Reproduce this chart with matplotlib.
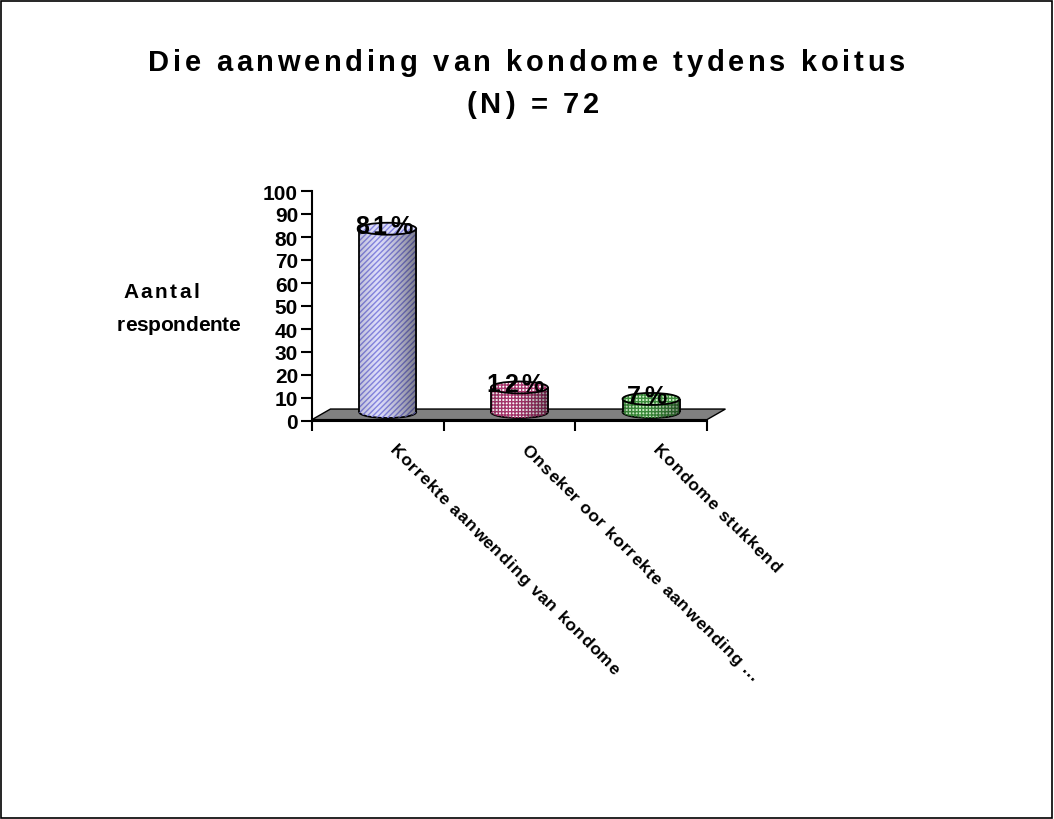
import numpy as np
import matplotlib
matplotlib.use("Agg")
import matplotlib.pyplot as plt
from matplotlib.patches import Polygon, Rectangle, Ellipse
from matplotlib.font_manager import FontProperties, findfont, get_font

plt.rcParams['font.family'] = ['Liberation Sans', 'DejaVu Sans']

# ---- data ----
categories = ["Korrekte aanwending van kondome",
              "Onseker oor korrekte aanwending ...",
              "Kondome stukkend"]
values = [81, 12, 7]
labels = ["81%", "12%", "7%"]
yticks = list(range(0, 101, 10))

faces = ['#dcdcf8', '#ffffff', '#d0f0c8']
hatch_cols = ['#8484e0', '#a8386e', '#3c8c3c']
hatches = ['//////', '+++++', '+++++']

W, H = 1054, 820
fig = plt.figure(figsize=(W / 100, H / 100), dpi=100)
fig.patches.append(Rectangle((1 / W, 1 / H), 1 - 3 / W, 1 - 3 / H, transform=fig.transFigure,
                             fill=False, ec='black', lw=1.2))

BOLD = FontProperties(family='Liberation Sans', weight='bold')
FT = get_font(findfont(BOLD))


def tracked(x, y, s, size, track=0.0, width=None, angle=0.0, ha='left'):
    """letter-spaced text, x/y in pixels from top-left, y = baseline"""
    FT.set_size(size, 100)
    adv = []
    for c in s:
        g = FT.load_char(ord(c))
        adv.append(g.linearHoriAdvance / 65536)
    nat = sum(adv)
    if width is not None and len(s) > 1:
        track = (width - nat) / (len(s) - 1)
    total = nat + track * (len(s) - 1)
    a = np.radians(angle)
    d = np.array([np.cos(a), np.sin(a)])
    pos = -total / 2 if ha == 'center' else 0.0
    for c, w in zip(s, adv):
        px, py = np.array([x, y]) + pos * d
        if c != ' ':
            fig.text(px / W, (H - py) / H, c, fontsize=size, fontweight='bold',
                     rotation=-angle, rotation_mode='anchor', ha='left', va='baseline')
        pos += w + track


# axes box in pixel coords
x0, x1, ytop, ybot = 312, 707, 192, 422
ax = fig.add_axes([x0 / W, (H - ybot) / H, (x1 - x0) / W, (ybot - ytop) / H])
n = len(values)
ax.set_xlim(0, n)
ax.set_ylim(0, 100)

# floor (3d-ish)
dx, dy = 0.14, 5.2
floor = Polygon([(0, 0.6), (n, 0.6), (n + dx, dy), (dx, dy)], closed=True,
                fc='#808080', ec='black', lw=1, clip_on=False, zorder=1)
ax.add_patch(floor)

# cylinder shading profile (dark at right side)
u = np.linspace(0, 1, 64)
alpha = np.where(u < 0.3, 0.12 * (0.3 - u) / 0.3, 0.45 * ((u - 0.3) / 0.7) ** 1.5)
shade = np.zeros((1, 64, 4))
shade[0, :, 3] = alpha

bw = 0.433
eh = 5.2
base = 3.9
for i, (v, fc, hc, ht) in enumerate(zip(values, faces, hatch_cols, hatches)):
    cx = i + 0.575
    top = v + 2.6
    # bottom ellipse
    bot = Ellipse((cx, base), bw, eh, fc=fc, ec='black', lw=1.3, clip_on=False, zorder=2)
    ax.add_patch(bot)
    ax.add_patch(Ellipse((cx, base), bw, eh, fc='none', ec=hc, lw=0, hatch=ht,
                         clip_on=False, zorder=2))
    im = ax.imshow(shade, extent=(cx - bw / 2, cx + bw / 2, base - eh / 2, base + eh / 2),
                   aspect='auto', zorder=2.5, interpolation='bilinear')
    im.set_clip_path(bot)
    # body
    body = Rectangle((cx - bw / 2, base), bw, top - base, fc=fc, ec=hc, hatch=ht, lw=0,
                     clip_on=False, zorder=3)
    ax.add_patch(body)
    im = ax.imshow(shade, extent=(cx - bw / 2, cx + bw / 2, base, top),
                   aspect='auto', zorder=3.5, interpolation='bilinear')
    im.set_clip_path(body)
    ax.plot([cx - bw / 2, cx - bw / 2], [base, top], color='black', lw=1.3, zorder=4,
            clip_on=False, solid_capstyle='butt')
    ax.plot([cx + bw / 2, cx + bw / 2], [base, top], color='black', lw=1.3, zorder=4,
            clip_on=False, solid_capstyle='butt')
    # top ellipse
    ax.add_patch(Ellipse((cx, top), bw, eh, fc=fc, ec='none', clip_on=False, zorder=5))
    ax.add_patch(Ellipse((cx, top), bw, eh, fc='none', ec=hc, lw=0, hatch=ht,
                         clip_on=False, zorder=5))
    ax.add_patch(Ellipse((cx, top), bw, eh, fc='none', ec='black', lw=1.3,
                         clip_on=False, zorder=5))

for s in ['top', 'right']:
    ax.spines[s].set_visible(False)
ax.spines['left'].set_linewidth(1.5)
ax.spines['bottom'].set_linewidth(1.5)
ax.patch.set_visible(False)

ax.set_yticks(yticks)
ax.set_yticklabels([str(t) for t in yticks], fontsize=15, fontweight='bold')
ax.set_xticks(np.arange(n + 1))
ax.set_xticklabels([])
ax.tick_params(axis='y', length=8, width=1.5, pad=2)
ax.tick_params(axis='x', length=7, width=1.5)

# value labels on top of the cylinders, and category labels
for i, (v, lab) in enumerate(zip(values, labels)):
    px, py = ax.transData.transform((i + 0.575, v + 2.6))
    tracked(px - 4, H - py + 4, lab, 18, track=3.5, ha='center')
    qx, _ = ax.transData.transform((i + 0.5, 0))
    tracked(qx + 11, 451, categories[i], 12.5, track=0.8, angle=45)

tracked(123, 298, "Aantal", 15, width=76)
tracked(117, 331, "respondente", 15, width=123)

tracked(148, 71, "Die aanwending van kondome tydens koitus", 21, width=757)
tracked(533, 113, "(N) = 72", 21, width=133, ha='center')

fig.savefig("out.png", dpi=100)
